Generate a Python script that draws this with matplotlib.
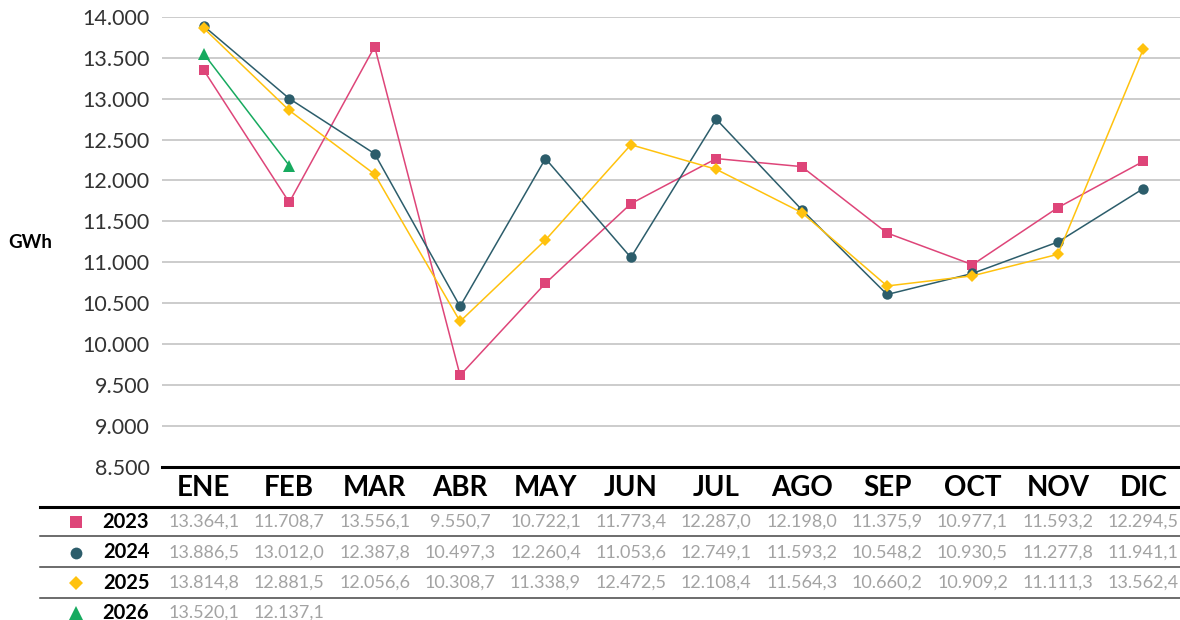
import matplotlib
matplotlib.use("Agg")
import matplotlib.pyplot as plt
from matplotlib.lines import Line2D
from matplotlib.transforms import blended_transform_factory

plt.rcParams['font.family'] = ['Lato', 'DejaVu Sans']

months = ["ENE", "FEB", "MAR", "ABR", "MAY", "JUN", "JUL", "AGO", "SEP", "OCT", "NOV", "DIC"]
years = ["2023", "2024", "2025", "2026"]

# Values as plotted in the chart (GWh)
plot_2023 = [13345, 11732, 13635, 9620, 10744, 11716, 12267, 12169, 11358, 10971, 11668, 12233]
plot_2024 = [13885, 13000, 12326, 10461, 12267, 11059, 12748, 11644, 10607, 10864, 11248, 11900]
plot_2025 = [13858, 12855, 12076, 10278, 11272, 12436, 12136, 11608, 10711, 10835, 11098, 13604]
plot_2026 = [13546, 12182]

# Values as printed in the table
table_2023 = ["13.364,1", "11.708,7", "13.556,1", "9.550,7", "10.722,1", "11.773,4", "12.287,0", "12.198,0", "11.375,9", "10.977,1", "11.593,2", "12.294,5"]
table_2024 = ["13.886,5", "13.012,0", "12.387,8", "10.497,3", "12.260,4", "11.053,6", "12.749,1", "11.593,2", "10.548,2", "10.930,5", "11.277,8", "11.941,1"]
table_2025 = ["13.814,8", "12.881,5", "12.056,6", "10.308,7", "11.338,9", "12.472,5", "12.108,4", "11.564,3", "10.660,2", "10.909,2", "11.111,3", "13.562,4"]
table_2026 = ["13.520,1", "12.137,1"]

yticks = [8500, 9000, 9500, 10000, 10500, 11000, 11500, 12000, 12500, 13000, 13500, 14000]
ytick_labels = ["8.500", "9.000", "9.500", "10.000", "10.500", "11.000", "11.500", "12.000", "12.500", "13.000", "13.500", "14.000"]

colors = ["#DE4579", "#2C5D6B", "#FFC20E", "#17AA5F"]
markers = ["s", "o", "D", "^"]
msizes = [7, 7.5, 6.5, 8.5]

W, H = 1180, 620
fig = plt.figure(figsize=(W / 100, H / 100), dpi=100)
ax = fig.add_axes([162 / W, 1 - 467 / H, 1 - 162 / W, (467 - 16.7) / H])

series = [plot_2023, plot_2024, plot_2025, plot_2026]
for i, vals in enumerate(series):
    ax.plot(range(len(vals)), vals, color=colors[i], lw=1.1, marker=markers[i],
            ms=msizes[i], markeredgewidth=0, zorder=3 + i)

ax.set_ylim(8500, 14000)
ax.set_xlim(-0.49, 11.43)
ax.set_yticks(yticks)
ax.set_yticklabels(ytick_labels, fontsize=15.5, color="#333333")
ax.set_xticks([])
ax.tick_params(axis='y', length=0, pad=9)
ax.grid(axis='y', color="#BFBFBF", lw=1.1)
ax.set_axisbelow(True)
for s in ["top", "right", "left"]:
    ax.spines[s].set_visible(False)
ax.spines["bottom"].set_color("black")
ax.spines["bottom"].set_linewidth(2.2)
ax.spines["bottom"].set_zorder(10)

fig.text(8 / W, 1 - 243 / H, "GWh", fontsize=13.5, fontweight="bold", va="center", ha="left")

tr = blended_transform_factory(ax.transData, fig.transFigure)

# header
for i, m in enumerate(months):
    fig.text(i, 1 - 488 / H, m, transform=tr, ha="center", va="center",
             fontsize=20, fontweight="bold", color="black")

# table lines
fig.add_artist(Line2D([40 / W, 1], [1 - 506.5 / H] * 2, transform=fig.transFigure, color="black", lw=2.2))
for yy in [536, 567, 598]:
    fig.add_artist(Line2D([40 / W, 1], [1 - yy / H] * 2, transform=fig.transFigure, color="#444444", lw=1.1))

row_y = [521.5, 552.5, 583, 613]
tables = [table_2023, table_2024, table_2025, table_2026]
for r, yr in enumerate(years):
    yf = 1 - row_y[r] / H
    fig.add_artist(Line2D([76 / W], [yf], transform=fig.transFigure, marker=markers[r],
                          color=colors[r], ms=msizes[r] + 1, markeredgewidth=0, linestyle="none"))
    fig.text(126 / W, yf, yr, ha="center", va="center", fontsize=14.5, fontweight="bold", color="black")
    for i, t in enumerate(tables[r]):
        fig.text(i, yf, t, transform=tr, ha="center", va="center", fontsize=13,
                 fontweight="normal", color="#A3A3A3")

fig.savefig("out.png", dpi=100)
